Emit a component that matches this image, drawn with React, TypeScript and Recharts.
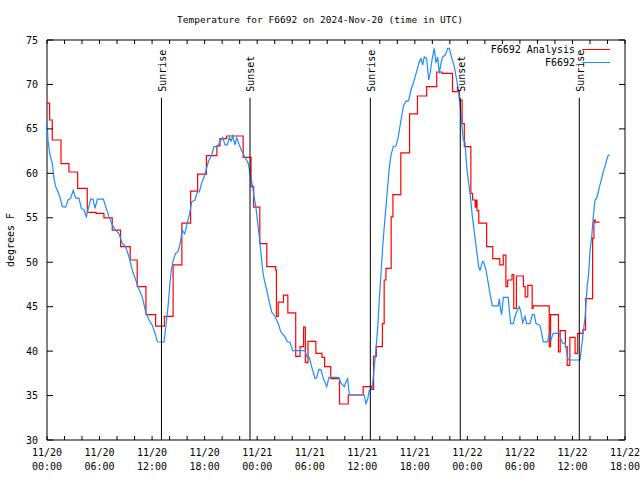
import React from 'react'
import { LineChart, Line, XAxis, YAxis, ReferenceLine, ReferenceArea } from 'recharts'

const FONT = '"DejaVu Sans Mono", monospace'
const RED = '#ff0000'
const BLUE = '#1e8cff'

// hours since 2024-11-20 00:00 UTC
const analysisHours = [
  0, 0.3, 0.6, 1.6, 2.5, 3.5, 4.6, 5.6, 6.5, 7.45, 8.4, 9.5, 10.3, 11.3, 12.4, 13.4, 14.4, 15.4, 16.4,
  17.2, 18.2, 19.4, 19.75, 20.5, 22.4, 23.3, 23.6, 24.3, 25.1, 26.1, 26.2, 26.4, 27.0, 27.5, 28.4,
  28.9, 29.3, 29.5, 29.8, 30.7, 31.4, 31.7, 32.4, 33.4, 34.4, 36.1, 37.1, 37.3, 37.6, 38.3, 38.5,
  38.7, 39.3, 39.5, 40.4, 41.4, 42.3, 43.35, 44.5, 45.1, 46.3, 47.1, 47.4, 47.65, 48.4, 48.6, 48.9,
  49.0, 49.1, 49.3, 50.2, 50.9, 51.7, 52.1, 52.4, 52.6, 53.1, 53.3, 53.6, 54.4, 54.6, 54.9, 55.4,
  55.5, 57.35, 57.5, 58.4, 58.6, 59.2, 59.4, 59.7, 60.3, 60.6, 61.2, 61.5, 62.3, 62.45, 62.6, 63.1,
]
const analysisTemps = [
  67.9, 66.0, 63.75, 61.1, 60.15, 58.3, 55.6, 55.5, 55.0, 53.6, 51.75, 50.25, 47.25, 44.1, 42.8, 43.9, 49.7, 54.4, 58.0,
  59.9, 62.0, 63.1, 63.9, 64.2, 61.8, 58.5, 56.2, 52.1, 49.5, 49.1, 43.9, 45.5, 46.3, 44.3, 39.4,
  40.5, 42.7, 38.7, 41.1, 39.75, 39.3, 38.25, 36.9, 34.05, 35.06, 36.0, 35.7, 39.4, 40.5, 43.1, 48.0,
  49.3, 55.1, 57.6, 62.3, 66.7, 68.7, 69.75, 71.4, 71.25, 69.2, 68.25, 65.6, 63.0, 57.75, 57.0, 56.2,
  57.0, 55.8, 54.4, 51.75, 50.4, 49.7, 50.8, 47.25, 48.0, 48.6, 44.8, 48.45, 47.25, 46.1, 47.4, 44.8,
  45.1, 40.5, 44.1, 39.9, 42.3, 40.5, 38.4, 41.55, 39.75, 42.0, 42.4, 45.9, 52.7, 54.75, 54.5, 54.5,
]

const obsHours = [
  0.03, 0.11, 0.34, 0.61, 0.8, 0.99, 1.18, 1.45, 1.75, 2.13, 2.4, 2.7, 3.0, 3.27, 3.65, 3.92, 4.22, 4.49,
  4.72, 4.99, 5.25, 5.48, 5.75, 6.43, 6.7, 7.08, 7.46, 7.84, 8.22, 8.6, 8.98, 9.36, 9.74, 10.13, 10.5,
  10.88, 11.27, 11.65, 12.02, 12.41, 12.6, 13.36, 13.55, 13.82, 14.04, 14.19, 14.42, 14.69, 14.96,
  15.19, 15.45, 15.72, 16.02, 16.29, 16.52, 16.9, 17.16, 17.39, 17.66, 18.04, 18.42, 18.8, 19.07,
  19.45, 19.75, 20.06, 20.32, 20.59, 20.82, 21.01, 21.2, 21.47, 21.66, 21.96, 22.23, 22.61, 22.99,
  23.29, 23.49, 23.67, 23.86, 24.06, 24.24, 24.43, 24.63, 24.81, 25.09, 25.38, 25.66, 26.03, 26.41,
  26.68, 27.18, 27.44, 27.75, 28.05, 29.46, 29.65, 29.95, 30.22, 30.6, 30.79, 31.06, 31.29, 31.55,
  31.94, 32.2, 33.3, 33.57, 33.95, 34.14, 34.33, 34.52, 36.23, 36.42, 36.62, 36.8, 37.11, 37.3, 37.49,
  37.65, 37.79, 37.94, 38.14, 38.33, 38.51, 38.71, 38.9, 39.08, 39.28, 39.54, 39.85, 40.11, 40.42,
  40.73, 40.99, 41.3, 41.56, 41.82, 42.05, 42.33, 42.51, 42.7, 42.9, 43.08, 43.35, 43.58, 43.77, 43.96,
  44.22, 44.42, 44.61, 44.79, 44.99, 45.18, 45.48, 45.75, 45.94, 46.24, 46.51, 46.78, 47.01, 47.19,
  47.35, 47.53, 47.73, 47.92, 48.15, 48.33, 48.53, 48.72, 48.9, 49.1, 49.29, 49.44, 49.75, 49.9, 50.13,
  50.39, 50.58, 50.85, 51.53, 51.65, 51.8, 51.92, 52.1, 52.67, 52.79, 52.95, 53.25, 53.44, 53.7, 53.93,
  54.09, 54.32, 54.58, 54.77, 55.15, 55.42, 55.64, 55.84, 56.29, 56.49, 56.67, 57.17, 57.35, 57.55,
  57.81, 58.5, 58.69, 58.88, 59.15, 59.34, 59.52, 60.86, 61.05, 61.24, 61.43, 61.54, 61.69, 61.85,
  62.0, 62.2, 62.38, 62.57, 62.77, 62.95, 63.14, 63.34, 63.52, 63.71, 63.91, 64.09, 64.28,
]
const obsTemps = [
  65.6, 63.75, 62.06, 61.1, 59.4, 58.5, 58.1, 57.4, 56.25, 56.2, 57.0, 57.2, 58.1, 57.2, 57.2, 56.05, 55.9, 55.1,
  56.05, 57.1, 57.1, 56.05, 57.1, 57.1, 56.25, 55.1, 54.2, 53.6, 53.2, 52.1, 51.75, 50.6, 49.1, 48.0, 46.95,
  46.1, 44.4, 43.5, 42.9, 41.8, 41.05, 41.0, 42.6, 45.0, 47.6, 49.1, 50.25, 51.0, 51.2,
  52.1, 53.6, 53.2, 54.4, 55.5, 56.8, 57.0, 57.9, 57.9, 58.9, 59.9, 61.3, 62.06, 63.0,
  63.0, 63.55, 64.05, 63.2, 63.2, 64.05, 63.6, 64.2, 63.2, 64.0, 63.2, 62.55, 61.8, 61.1,
  59.4, 58.5, 57.2, 56.2, 54.4, 52.9, 51.0, 49.1, 48.0, 46.9, 45.55, 44.4, 43.9, 43.1,
  42.2, 41.6, 41.05, 41.0, 40.05, 40.05, 39.4, 39.3, 38.25, 36.9, 37.0, 37.95, 37.9, 36.9,
  36.0, 37.05, 37.05, 36.4, 36.0, 36.55, 36.9, 35.06, 35.06, 34.1, 34.6, 35.6, 35.7, 37.5, 39.4,
  41.25, 43.1, 45.75, 48.75, 51.75, 54.0, 56.25, 58.5, 60.56, 62.06, 63.0, 63.1, 64.1, 66.0,
  67.7, 68.1, 68.2, 69.4, 70.1, 70.9, 71.9, 72.55, 72.9, 72.2, 73.1, 72.9, 70.5, 71.4, 72.75,
  74.06, 72.4, 73.1, 71.25, 72.4, 73.1, 73.3, 74.06, 74.06, 72.9, 72.0, 70.5, 69.0, 67.5,
  65.6, 63.75, 63.5, 60.75, 58.9, 57.6, 55.5, 54.0, 52.5, 51.0, 49.5, 49.1, 50.1, 49.9, 49.1,
  47.6, 46.5, 45.1, 45.1, 45.9, 44.6, 44.1, 46.05, 46.05, 44.6, 43.1, 43.1, 43.9, 44.6, 45.0,
  44.5, 43.2, 43.9, 43.1, 43.1, 44.1, 44.1, 43.1, 42.9, 42.0, 41.05, 41.05, 42.0, 41.3,
  42.0, 42.0, 41.3, 40.9, 40.9, 39.9, 39.0, 39.0, 40.5, 42.2, 43.7, 45.4, 47.4, 48.75,
  51.2, 52.9, 55.1, 57.0, 57.2, 57.9, 58.7, 59.4, 60.2, 60.75, 61.5, 62.06, 62.06,
]

const sunHours = [13.07, 23.18, 36.92, 47.19, 60.78]
const sunLabels = ['Sunrise', 'Sunset', 'Sunrise', 'Sunset', 'Sunrise']
const sunLineTop = 68.5

const xTicks = [0, 2, 4, 6, 8, 10, 12, 14, 16, 18, 20, 22, 24, 26, 28, 30, 32, 34, 36, 38, 40, 42, 44, 46, 48, 50, 52, 54, 56, 58, 60, 62, 64, 66]
const yTicks = [30, 35, 40, 45, 50, 55, 60, 65, 70, 75]

const PLOT_W = 578
const PLOT_H = 400

const analysisData = analysisHours.map((h, i) => ({ h, t: analysisTemps[i] }))
const obsData = obsHours.map((h, i) => ({ h, t: obsTemps[i] }))

function XTick({ x, y, payload }: any) {
  const h = payload.value
  const labelled = h % 6 === 0
  const day = 20 + Math.floor(h / 24)
  const hh = String(h % 24).padStart(2, '0')
  return (
    <g>
      <line x1={x} y1={y} x2={x} y2={y - 4} stroke="#000" />
      <line x1={x} y1={y - PLOT_H} x2={x} y2={y - PLOT_H + 4} stroke="#000" />
      {labelled && (
        <text x={x} y={y} textAnchor="middle" fontFamily={FONT} fontSize={10} fill="#000">
          <tspan x={x} dy={16}>{`11/${day}`}</tspan>
          <tspan x={x} dy={14}>{`${hh}:00`}</tspan>
        </text>
      )}
    </g>
  )
}

function YTick({ x, y, payload }: any) {
  return (
    <g>
      <line x1={x} y1={y} x2={x + 6} y2={y} stroke="#000" />
      <line x1={x + PLOT_W - 6} y1={y} x2={x + PLOT_W} y2={y} stroke="#000" />
      <text x={x - 9} y={y} dy={3.5} textAnchor="end" fontFamily={FONT} fontSize={10} fill="#000">
        {payload.value}
      </text>
    </g>
  )
}

function SunLabel({ viewBox, text }: any) {
  const bx = viewBox.x + 4.5
  const by = viewBox.y - 6
  return (
    <text x={bx} y={by} transform={`rotate(-90 ${bx} ${by})`} fontFamily={FONT} fontSize={10} fill="#000">
      {text}
    </text>
  )
}

export default function App() {
  return (
    <div style={{ position: 'absolute', left: 0, top: 0, width: 640, height: 480, background: '#fff' }}>
      <div style={{ position: 'absolute', left: 0, top: 14, width: 640, textAlign: 'center', fontFamily: FONT, fontSize: 9.5, lineHeight: '12px' }}>
        Temperature for F6692 on 2024-Nov-20 (time in UTC)
      </div>
      <div style={{ position: 'absolute', left: 10, top: 240, transform: 'translate(-50%, -50%) rotate(-90deg)', whiteSpace: 'nowrap', fontFamily: FONT, fontSize: 10 }}>
        degrees F
      </div>
      <LineChart width={640} height={480} data={obsData} margin={{ top: 40, right: 15, bottom: 0, left: 0 }}>
        <XAxis
          dataKey="h"
          type="number"
          domain={[0, 66]}
          ticks={xTicks}
          interval={0}
          tickSize={0}
          tickMargin={0}
          height={40}
          axisLine={false}
          tickLine={false}
          tick={<XTick />}
        />
        <YAxis
          type="number"
          domain={[30, 75]}
          ticks={yTicks}
          interval={0}
          tickSize={0}
          tickMargin={0}
          width={47}
          axisLine={false}
          tickLine={false}
          tick={<YTick />}
        />
        <ReferenceArea x1={0} x2={66} y1={30} y2={75} fill="none" stroke="#000" strokeWidth={1} />
        <Line data={analysisData} dataKey="t" type="stepAfter" stroke={RED} strokeWidth={1.2} dot={false} isAnimationActive={false} />
        <Line data={obsData} dataKey="t" type="linear" stroke={BLUE} strokeWidth={1.2} dot={false} isAnimationActive={false} />
        {sunHours.map((h, i) => (
          <ReferenceLine
            key={i}
            segment={[{ x: h, y: 30 }, { x: h, y: sunLineTop }]}
            stroke="#000"
            strokeWidth={1}
            label={(p: any) => <SunLabel {...p} text={sunLabels[i]} />}
          />
        ))}
      </LineChart>
      <div style={{ position: 'absolute', left: 0, top: 43, width: 575, textAlign: 'right', fontFamily: FONT, fontSize: 10, lineHeight: '13px' }}>
        <div>F6692 Analysis</div>
        <div>F6692</div>
      </div>
      <div style={{ position: 'absolute', left: 582, top: 49, width: 28, height: 0, borderTop: `1px solid ${RED}` }} />
      <div style={{ position: 'absolute', left: 582, top: 62, width: 28, height: 0, borderTop: `1px solid ${BLUE}` }} />
    </div>
  )
}
